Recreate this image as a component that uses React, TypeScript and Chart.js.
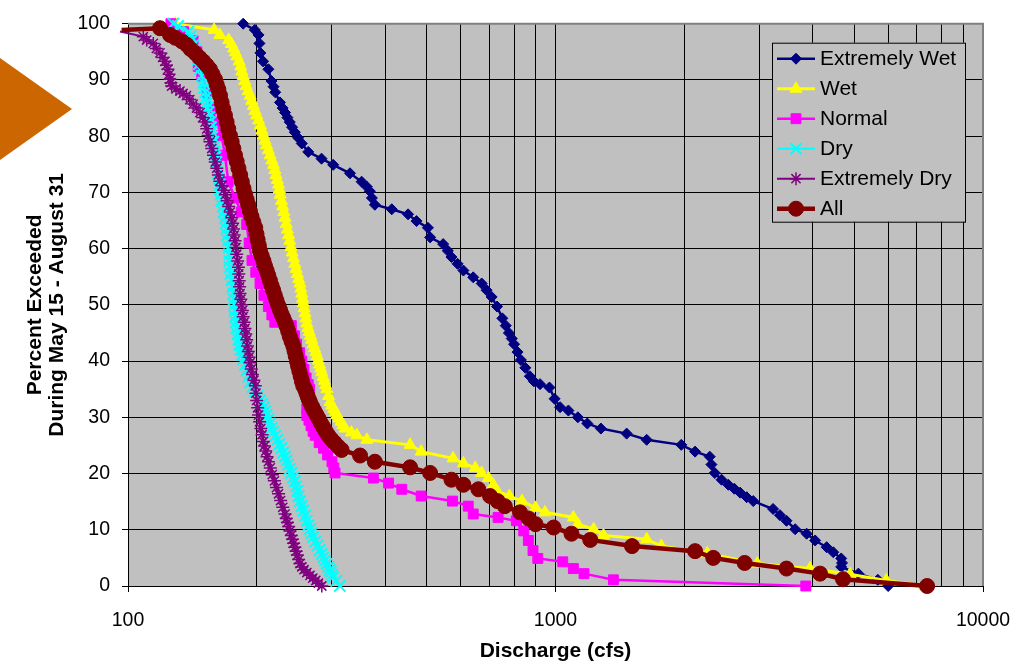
import React, { useEffect, useRef } from 'react';
import { Chart, registerables } from 'chart.js';
import { drawPoint } from 'chart.js/helpers';

Chart.register(...registerables);

const FONT = '"Liberation Sans", Arial, Helvetica, sans-serif';

// ---- data: [discharge (cfs), percent exceeded] ----
const seriesNames = ['Extremely Wet', 'Wet', 'Normal', 'Dry', 'Extremely Dry', 'All'];

const extremelyWet: [number, number][] = [
  [186, 100], [198, 98.9], [202, 98], [203, 96.5], [204, 94.8], [207, 93.3], [213, 91.9], [216.6, 89.8],
  [219, 88.8], [221, 87.8], [226.7, 86], [230, 85], [233, 84.2], [236, 83.3], [239, 82.5], [242, 81.6],
  [245.6, 80.7], [250, 79.7], [255, 78.7], [264, 77.2], [283.6, 76], [302, 74.9], [330.6, 73.4], [352, 71.9],
  [362, 71], [368, 70.2], [372, 69], [378, 67.8], [414, 67], [452, 66.1], [473, 64.9], [503, 63.7],
  [509, 62], [546, 60.8], [560, 59.6], [571, 58.5], [590, 57.3], [609, 56.1], [642, 54.9], [672, 53.8],
  [690, 52.6], [709, 51.4], [730, 49.7], [751, 47.6], [765, 46.3], [778, 45], [790, 44], [800, 43],
  [815, 41.6], [830, 40.2], [850, 38.8], [871, 37.3], [890, 36.4], [920, 35.9], [968, 35.3], [995, 33.3],
  [1025, 31.8], [1072, 31.2], [1128, 30], [1187, 28.9], [1277, 28], [1467, 27.1], [1634, 26], [1969, 25.1],
  [2121, 23.9], [2295, 23], [2316, 21.6], [2358, 20.1], [2446, 18.9], [2537, 18], [2620, 17.3], [2703, 16.6],
  [2800, 15.8], [2901, 15.1], [3228, 13.7], [3350, 12.6], [3470, 11.6], [3636, 10.1], [3868, 9.3], [4049, 8.1],
  [4308, 6.9], [4465, 6.0], [4659, 4.9], [4680, 4.1], [4659, 3.4], [5110, 2.2], [5675, 1.1], [6000, 0],
];

const wet: [number, number][] = [
  [129, 100], [159, 98.9], [164, 98], [172, 97.1], [174.5, 96.4], [176.6, 95.6], [178.2, 94.9], [179.8, 94.2],
  [182, 93.3], [183.5, 92.4], [184.7, 91.5], [186, 90.7], [187.5, 89.8], [189, 88.9], [191, 88], [193, 87.2],
  [194.7, 86.3], [196.5, 85.4], [198.2, 84.5], [200, 83.7], [202, 82.8], [204, 81.9], [205.7, 81], [207.5, 80.1],
  [209.2, 79.2], [211, 78.4], [213, 77.5], [215, 76.6], [217, 75.7], [219, 74.9], [220.5, 74], [222, 73.1],
  [223.5, 72.2], [225, 71.4], [226, 70.5], [227, 69.6], [228.5, 68.5], [230, 67.5], [231.5, 66.5], [233, 65.5],
  [234.5, 64.4], [236, 63.4], [237.5, 62.4], [239, 61.4], [240.5, 60.3], [242, 59.3], [243.8, 58.3], [245.6, 57.3],
  [247.3, 56.4], [249, 55.5], [250.7, 54.6], [252.5, 53.8], [253.8, 52.9], [255, 52], [256, 51.1], [257, 50.3],
  [258.2, 49.4], [259.5, 48.5], [260.7, 47.6], [262, 46.7], [263.7, 45.9], [265.5, 45.2], [267.2, 44.5], [269, 43.8],
  [271, 43], [273, 42.3], [275, 41.6], [277, 40.9], [278.7, 40.1], [280.5, 39.4], [282.2, 38.7], [284, 38],
  [286, 37.2], [288, 36.5], [290, 35.7], [292, 35], [294.5, 33.8], [297, 32.7], [300, 32.1], [303, 31.5],
  [305.5, 30.9], [308, 30.4], [311.5, 29.8], [315, 29.2], [318.5, 28.6], [322, 28], [333, 27.3], [343, 26.8],
  [362, 26], [457, 25.1], [485, 23.9], [576, 22.7], [609, 21.8], [649, 21], [672, 20.1], [697, 19.2],
  [715, 18], [730, 16.9], [780, 16], [835, 15.1], [898, 13.9], [945, 13.1], [1101, 12.2], [1128, 11],
  [1228, 10.1], [1295, 9], [1634, 8.3], [1768, 7.1], [2265, 5.8], [2965, 4.0], [3937, 3.1], [4885, 2.1],
  [5940, 1.0], [7300, 0],
];

const normal: [number, number][] = [
  [126, 100], [135, 98.6], [142, 97], [145, 95], [146, 92.4], [148.8, 90.7], [153, 87.8], [157, 84.8],
  [161, 82.5], [165.6, 80.1], [168.6, 76.6], [171.6, 71.9], [178, 69], [184, 66.5], [189.5, 64.3], [192, 61],
  [195, 57.9], [199, 55.8], [203.6, 53.8], [208, 51.7], [213, 49.7], [217, 48.2], [220.5, 46.9], [241, 46.3],
  [245, 44.5], [248, 43], [252, 41.5], [255, 40], [258, 38.5], [261, 37], [264, 35.8], [266, 35], [264, 33.5],
  [262, 31.5], [262, 30.3], [265, 29.5], [268, 28.5], [271, 27.5], [274, 26.8], [280, 25.5], [286.7, 24.5],
  [293, 23.3], [300, 22.1], [303, 21], [305, 20.1], [375, 19.2], [407, 18.3], [437, 17.2], [485, 16],
  [574, 15.1], [625, 14.2], [642, 12.8], [734, 12.2], [810, 11.6], [843, 9.8], [864, 8.1], [886, 6.3],
  [909, 4.9], [1040, 4.3], [1101, 3.1], [1166, 2.2], [1366, 1.1], [3850, 0],
];

const dry: [number, number][] = [
  [127.6, 100], [131, 99.6], [138.5, 98.6], [140, 97.8], [141, 97], [142.3, 96.2], [143.5, 95.4], [144.5, 94.5],
  [145.5, 93.6], [146.5, 92.8], [147.4, 91.9], [148.7, 90.7], [150, 89.5], [150.8, 88.6], [151.5, 87.8], [152.3, 86.9],
  [153, 86], [153.6, 85.1], [154.3, 84.3], [154.9, 83.4], [155.5, 82.5], [156.3, 81.6], [157, 80.8], [157.6, 79.9],
  [158.3, 79], [159, 78.1], [159.7, 77.2], [160.3, 76.3], [161, 75.4], [161.8, 74.4], [162.5, 73.4], [163.3, 72.4],
  [164, 71.4], [164.2, 70.5], [164.5, 69.6], [165.5, 68.5], [166.5, 67.5], [167.5, 66.5], [168.6, 65.5], [169.3, 64.5],
  [170, 63.5], [170.8, 62.4], [171.6, 61.4], [172, 60.2], [172.3, 59], [172.6, 57.8], [173, 56.7], [173.8, 55.5],
  [174.7, 54.4], [175.5, 53.2], [176.4, 52], [176.8, 51], [177.2, 50], [177.6, 49], [178, 47.9], [178.8, 46.9],
  [179.6, 45.9], [180.4, 44.8], [181.3, 43.8], [182.4, 42.9], [183.5, 42], [184.7, 41.1], [186, 40.3], [187.7, 39.3],
  [189.5, 38.3], [191.2, 37.2], [192.9, 36.2], [195.4, 35.4], [198, 34.6], [200.8, 33.8], [203.6, 33], [205.8, 32.4],
  [208, 31.8], [209.5, 31.1], [211, 30.4], [212.9, 29.6], [214.8, 28.9], [216.7, 28.1], [218.6, 27.4], [221, 26.7],
  [223.5, 26], [226, 25.2], [228.5, 24.5], [230.7, 23.7], [233, 23], [235, 22.3], [237, 21.6], [239, 20.8],
  [241, 20.1], [243.3, 19.3], [245.6, 18.6], [247.3, 17.7], [249, 16.9], [250.7, 16], [252.5, 15.1], [254.7, 14.2],
  [257, 13.4], [259.5, 12.5], [262, 11.6], [264.2, 10.8], [266.5, 10.1], [268.7, 9.4], [271, 8.7], [274.2, 7.9],
  [277.5, 7.2], [280.7, 6.4], [284, 5.7], [286.5, 5.1], [289, 4.5], [291.5, 3.9], [294, 3.4], [296, 2.9],
  [298, 2.5], [300, 2], [302, 1.6], [307, 0.9], [313, 0],
];

const extremelyDry: [number, number][] = [
  [95.8, 98.6], [108.6, 97.7], [110.6, 97.1], [114.6, 96.5], [116.5, 95.6], [118.8, 94.8], [120.5, 94], [122, 93.3],
  [123, 92.6], [124, 91.9], [124.8, 91], [125.4, 90.1], [126, 89.5], [126.5, 88.9], [129.5, 88.4], [132.3, 88],
  [134.5, 87.6], [137, 87.2], [139.5, 86.5], [142, 85.7], [144.7, 85], [147.4, 84.2], [149.5, 83.3], [151.5, 82.5],
  [152.8, 81.3], [154, 80.1], [155.5, 79], [157, 77.8], [158.5, 76.6], [160, 75.4], [161.3, 74.3], [162.7, 73.1],
  [164, 72], [166, 71.2], [167.5, 70.4], [169, 69.6], [170.5, 68.5], [172, 67.5], [173.4, 66.5], [174.8, 65.5],
  [175.7, 64.5], [176.5, 63.5], [177.2, 62.4], [178, 61.4], [178.8, 60.2], [179.6, 59], [180.5, 57.8], [181.3, 56.7],
  [181.6, 55.5], [182, 54.3], [182.4, 53.2], [182.8, 52], [183.6, 51], [184.5, 50], [185.2, 49], [186, 47.9],
  [186.9, 46.9], [187.8, 45.8], [188.6, 44.8], [189.5, 43.8], [190.3, 42.7], [191.2, 41.7], [192, 40.7], [192.9, 39.7],
  [194.2, 38.6], [195.5, 37.6], [197, 36.6], [198.5, 35.6], [199.2, 34.3], [200, 33], [201, 31.7], [202, 30.4],
  [203.2, 29.2], [204.5, 28], [205.9, 26.9], [207.3, 25.7], [208.6, 24.9], [210, 24], [211.5, 23], [213, 22.1],
  [215.2, 21], [217.5, 19.8], [220, 18.7], [222.5, 17.5], [225, 16.4], [227.5, 15.2], [230.2, 14], [233, 12.8],
  [234.5, 12], [236, 11.3], [237.6, 10.6], [239.3, 9.8], [241, 9], [242.5, 8.3], [244, 7.6], [245.6, 6.9],
  [247.3, 6.2], [249, 5.5], [250.7, 4.7], [252.5, 4.0], [255, 3.4], [258, 2.9], [262, 2.4], [266.5, 1.9],
  [270.5, 1.4], [275, 1], [279, 0.5], [284, 0],
];

const all: [number, number][] = [
  [96.6, 98.9], [118.8, 99.2], [125.4, 98], [129, 97.5], [133.5, 96.9], [137, 96.3], [140, 95.5], [143.5, 94.8],
  [146.8, 94], [150, 93.3], [152.8, 92.6], [155.5, 91.9], [157.7, 91], [159.8, 90.1], [161.2, 89.2], [162.7, 88.3],
  [164.2, 87.2], [165.6, 86], [167.1, 84.8], [168.6, 83.7], [170.1, 82.5], [171.6, 81.3], [173.2, 80.1], [174.8, 79],
  [176.4, 77.8], [178, 76.6], [179.6, 75.5], [181.3, 74.3], [183, 73.1], [184.6, 71.9], [186.3, 70.7], [188, 69.6],
  [189.5, 68.7], [191, 67.8], [192.8, 66.7], [194.5, 65.7], [196.5, 64.7], [198.5, 63.7], [199.8, 62.6], [201, 61.6],
  [202.3, 60.6], [203.6, 59.6], [205.5, 58.7], [207.5, 57.8], [209.2, 56.9], [211, 56.1], [212.9, 55.2], [214.8, 54.3],
  [216.7, 53.4], [218.6, 52.6], [220.5, 51.7], [222.5, 50.8], [224.6, 49.9], [226.7, 49.1], [228.8, 48.3], [231, 47.6],
  [233, 46.9], [235, 46.2], [237, 45.3], [239, 44.4], [241.3, 43.5], [243.6, 42.7], [245.2, 41.8], [246.8, 40.9],
  [248.4, 40], [250, 39.1], [251.7, 38.2], [253.5, 37.3], [255.2, 36.4], [257, 35.6], [259.6, 35], [261.3, 34.4],
  [263, 33.8], [264.7, 33.2], [266.5, 32.7], [269.5, 31.9], [272.5, 31.2], [275.7, 30.5], [279, 29.8], [282.5, 29],
  [286, 28.3], [290, 27.5], [294, 26.8], [299, 26.1], [304, 25.5], [310, 24.8], [316, 24.2], [349, 23.2],
  [378, 22.1], [457, 21.1], [509, 20.1], [571, 18.9], [609, 18], [660, 17.2], [703, 16], [732, 15.1],
  [761, 14.2], [826, 13.1], [865, 12], [898, 11], [990, 10.4], [1090, 9.3], [1206, 8.2], [1510, 7.1],
  [2121, 6.2], [2339, 5], [2770, 4.1], [3470, 3.1], [4157, 2.2], [4705, 1.2], [7400, 0],
];

const seriesData = [extremelyWet, wet, normal, dry, extremelyDry, all];

// axis ticks
const xGridValues = [100, 200, 300, 400, 500, 600, 700, 800, 900, 1000, 2000, 3000, 4000, 5000, 6000, 7000, 8000, 9000, 10000];
const xLabelValues = [100, 1000, 10000];
const yTickStep = 10;

// ---- styles ----
const seriesStyles = [
  { color: '#000080', pointStyle: 'rectRot', radius: 5.5, lineWidth: 2.5, pointBorderWidth: 1 },
  { color: '#FFFF00', pointStyle: 'triangle', radius: 7, lineWidth: 3, pointBorderWidth: 1 },
  { color: '#FF00FF', pointStyle: 'rect', radius: 7, lineWidth: 2.5, pointBorderWidth: 1 },
  { color: '#00FFFF', pointStyle: 'crossRot', radius: 8, lineWidth: 2, pointBorderWidth: 2 },
  { color: '#800080', pointStyle: 'star', radius: 6.5, lineWidth: 2, pointBorderWidth: 1.5 },
  { color: '#800000', pointStyle: 'circle', radius: 7.5, lineWidth: 4.5, pointBorderWidth: 1 },
];

const bgPlugin = {
  id: 'excelBackground',
  beforeDraw(chart: any) {
    const { ctx, chartArea } = chart;
    const { left, top, right, bottom } = chartArea;
    ctx.save();
    ctx.fillStyle = '#FFFFFF';
    ctx.fillRect(0, 0, chart.width, chart.height);
    ctx.fillStyle = '#C0C0C0';
    ctx.fillRect(left, top, right - left, bottom - top);
    ctx.fillStyle = '#CC6600';
    ctx.beginPath();
    ctx.moveTo(0, 58);
    ctx.lineTo(72, 109);
    ctx.lineTo(0, 160);
    ctx.closePath();
    ctx.fill();
    ctx.restore();
  },
  beforeDatasetsDraw(chart: any) {
    const { ctx, chartArea } = chart;
    const { left, top, right, bottom } = chartArea;
    ctx.save();
    ctx.strokeStyle = '#808080';
    ctx.lineWidth = 2;
    ctx.beginPath();
    ctx.moveTo(left, top);
    ctx.lineTo(right, top);
    ctx.lineTo(right, bottom);
    ctx.stroke();
    ctx.restore();
  },
};

const legendPlugin = {
  id: 'excelLegend',
  afterDraw(chart: any) {
    const { ctx, chartArea } = chart;
    const x0 = chartArea.right - 211;
    const y0 = chartArea.top + 19;
    const w = 193;
    const h = 179;
    ctx.save();
    ctx.fillStyle = '#C0C0C0';
    ctx.fillRect(x0, y0, w, h);
    ctx.strokeStyle = '#000';
    ctx.lineWidth = 1;
    ctx.strokeRect(x0 + 0.5, y0 + 0.5, w, h);
    chart.data.datasets.forEach((ds: any, i: number) => {
      const st = seriesStyles[i];
      const y = y0 + 16 + i * 30;
      ctx.strokeStyle = st.color;
      ctx.lineWidth = st.lineWidth;
      ctx.beginPath();
      ctx.moveTo(x0 + 5, y);
      ctx.lineTo(x0 + 43, y);
      ctx.stroke();
      ctx.fillStyle = st.color;
      ctx.strokeStyle = st.color;
      ctx.lineWidth = st.pointBorderWidth;
      drawPoint(ctx, { pointStyle: st.pointStyle, radius: st.radius, borderWidth: st.pointBorderWidth, rotation: 0 } as any, x0 + 24, y);
      ctx.fillStyle = '#000';
      ctx.font = `21px ${FONT}`;
      ctx.textBaseline = 'middle';
      ctx.textAlign = 'left';
      ctx.fillText(ds.label, x0 + 48, y + 1);
    });
    ctx.restore();
  },
};

export default function App() {
  const canvasRef = useRef<HTMLCanvasElement | null>(null);

  useEffect(() => {
    if (!canvasRef.current) return;
    const datasets = seriesData.map((pts, i) => {
      const st = seriesStyles[i];
      return {
        label: seriesNames[i],
        data: pts.map(([x, y]) => ({ x, y })),
        borderColor: st.color,
        backgroundColor: st.color,
        borderWidth: st.lineWidth,
        pointStyle: st.pointStyle,
        pointRadius: (c: any) => (pts[c.dataIndex] && pts[c.dataIndex][0] < 100 ? 0 : st.radius),
        pointBackgroundColor: st.color,
        pointBorderColor: st.color,
        pointBorderWidth: st.pointBorderWidth,
        tension: 0,
        fill: false,
        clip: false as any,
        order: seriesData.length - 1 - i,
      };
    });

    const chart = new Chart(canvasRef.current, {
      type: 'line',
      data: { datasets } as any,
      options: {
        responsive: false,
        animation: false,
        devicePixelRatio: 1,
        events: [],
        layout: { padding: { top: 17, right: 51, left: 0, bottom: 0 } },
        plugins: { legend: { display: false }, tooltip: { enabled: false } },
        scales: {
          x: {
            type: 'logarithmic',
            min: 100,
            max: 10000,
            afterBuildTicks: (s: any) => {
              s.ticks = xGridValues.map((v) => ({ value: v, major: xLabelValues.includes(v) }));
            },
            afterFit: (s: any) => {
              s.height = 80;
            },
            ticks: {
              autoSkip: false,
              maxRotation: 0,
              minRotation: 0,
              padding: 17,
              color: '#000',
              font: { family: FONT, size: 19.5 },
              callback: (v: any) => (xLabelValues.includes(Number(v)) ? String(v) : ''),
            },
            grid: {
              color: '#000',
              lineWidth: 1,
              drawTicks: true,
              tickLength: 6,
              tickColor: (c: any) => (c.tick && xLabelValues.includes(c.tick.value) ? '#000' : 'rgba(0,0,0,0)'),
            },
            border: { display: true, color: '#000', width: 1 },
            title: {
              display: true,
              text: 'Discharge (cfs)',
              color: '#000',
              font: { family: FONT, size: 21, weight: 'bold', lineHeight: 1.2 },
              padding: { top: 0, bottom: 2.4 },
            },
          } as any,
          y: {
            type: 'linear',
            min: 0,
            max: 100,
            afterFit: (s: any) => {
              s.width = 128;
            },
            ticks: {
              stepSize: yTickStep,
              padding: 12,
              color: '#000',
              font: { family: FONT, size: 19.5 },
            },
            grid: { color: '#000', lineWidth: 1, drawTicks: true, tickLength: 6, tickColor: '#000' },
            border: { display: true, color: '#000', width: 1 },
            title: {
              display: true,
              text: ['Percent Exceeded', 'During May 15 - August 31'],
              color: '#000',
              font: { family: FONT, size: 21, weight: 'bold', lineHeight: 22 / 21 },
              padding: { top: 24, bottom: 0 },
            },
          } as any,
        },
      },
      plugins: [bgPlugin, legendPlugin],
    });
    return () => chart.destroy();
  }, []);

  return (
    <div style={{ position: 'fixed', left: 0, top: 0, width: 1034, height: 666, background: '#fff' }}>
      <canvas ref={canvasRef} width={1034} height={666} style={{ display: 'block' }} />
    </div>
  );
}
